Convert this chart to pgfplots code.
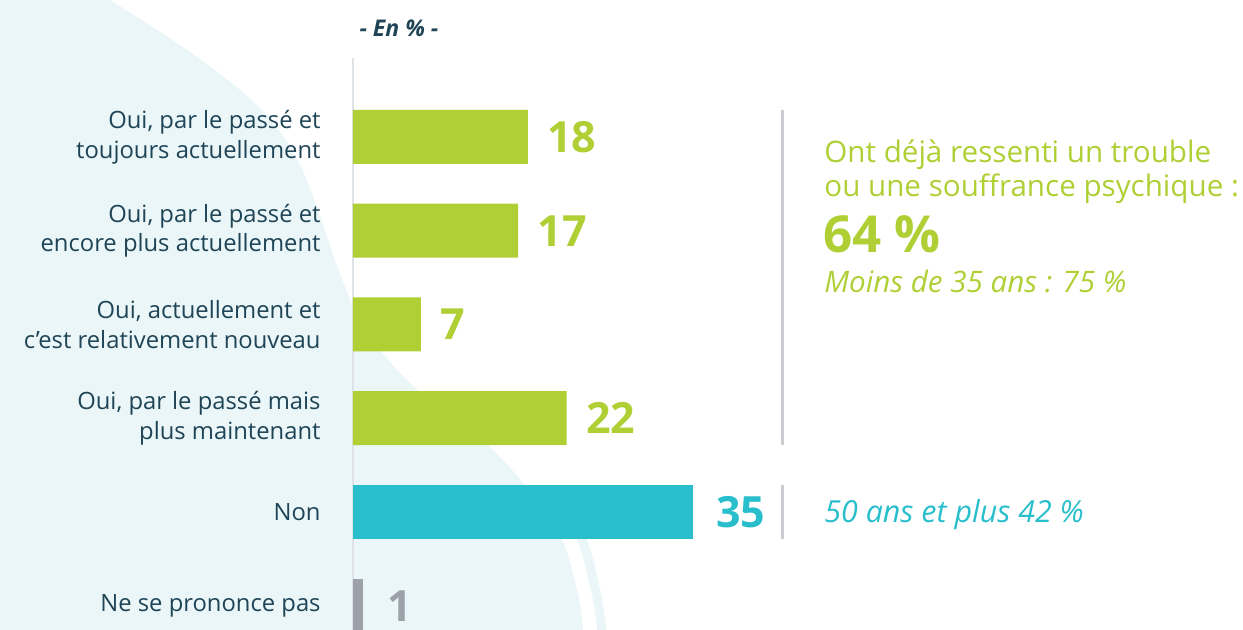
\documentclass[border=0pt]{standalone}
\usepackage{pgfplots}
\pgfplotsset{compat=1.18}
\usepackage{fontspec}
\setmainfont{Open Sans}
\definecolor{bgblue}{HTML}{EAF6F8}
\definecolor{cgreen}{HTML}{AFCF35}
\definecolor{cteal}{HTML}{29BECC}
\definecolor{cgray}{HTML}{9CA1AA}
\definecolor{navy}{HTML}{1F4456}
\definecolor{sepgray}{HTML}{C9CCD1}
\definecolor{axgray}{HTML}{DDE3E6}
\begin{document}
\begin{tikzpicture}
\path[use as bounding box] (0,0) rectangle (621.5pt,315pt);
\begin{scope}[x=0.5pt,y=-0.5pt,yshift=315pt]
\fill[bgblue] (0,0) -- (110,0) -- plot[smooth,tension=0.6] coordinates {(110,0) (180,45) (240,90) (275,125) (300,165) (318,210) (335,260) (355,310) (380,350) (420,392) (480,438) (525,485) (560,535) (577,590) (583,630)} -- (0,630) -- cycle;
\draw[bgblue,line width=4.5pt] plot[smooth,tension=0.6] coordinates {(568,515) (584,545) (597,597) (602,632)};
\draw[axgray,line width=1pt] (353,58) -- (353,630);
\end{scope}
\begin{axis}[
  at={(176.5pt,0pt)}, anchor=south west,
  scale only axis, width=445pt, height=315pt,
  xmin=0, xmax=91.66, ymin=-1.461, ymax=5.259,
  y dir=reverse,
  xbar, bar width=27pt, bar shift=0pt,
  axis line style={draw=none},
  xtick=\empty,
  ytick={0,1,2,3,4,5},
  yticklabels={{Oui, par le passé et\\toujours actuellement},{Oui, par le passé et\\encore plus actuellement},{Oui, actuellement et\\c’est relativement nouveau},{Oui, par le passé mais\\plus maintenant},{Non},{Ne se prononce pas}},
  major tick length=0pt, tick style={draw=none},
  yticklabel style={font=\fontsize{11.9pt}{14.8pt}\selectfont, text=navy, align=right, inner sep=0pt, xshift=-16pt},
  clip=false,
  /pgf/number format/assume math mode=true,
  nodes near coords, point meta=x,
  nodes near coords style={anchor=west, inner sep=0pt, xshift=9.5pt, font=\fontsize{21.5pt}{24pt}\selectfont\bfseries},
]
\addplot[fill=cgreen, draw=none, nodes near coords style={text=cgreen}] coordinates {(18,0) (17,1) (7,2) (22,3)};
\addplot[fill=cteal, draw=none, nodes near coords style={text=cteal, xshift=2pt}] coordinates {(35,4)};
\addplot[fill=cgray, draw=none, nodes near coords style={text=cgray, xshift=2.5pt}] coordinates {(1,5)};
\end{axis}
\begin{scope}[x=0.5pt,y=-0.5pt,yshift=315pt]
\draw[sepgray,line width=1.5pt] (782,110) -- (782,445);
\draw[sepgray,line width=1.5pt] (782,485) -- (782,539);
\node[anchor=base, inner sep=0pt, text=navy, font=\fontsize{11.5pt}{13pt}\selectfont\bfseries\itshape] at (399,37) {- En \% -};
\node[anchor=base west, inner sep=0pt, text=cgreen, font=\fontsize{14.8pt}{17pt}\selectfont] at (824,163) {Ont déjà ressenti un trouble};
\node[anchor=base west, inner sep=0pt, text=cgreen, font=\fontsize{14.8pt}{17pt}\selectfont] at (824,197) {ou une souffrance psychique :};
\node[anchor=base west, inner sep=0pt, text=cgreen, font=\fontsize{25.5pt}{28pt}\selectfont\bfseries] at (823,253) {64 \%};
\node[anchor=base west, inner sep=0pt, text=cgreen, font=\fontsize{14.8pt}{17pt}\selectfont\itshape] at (824,293) {Moins de 35 ans : 75 \%};
\node[anchor=base west, inner sep=0pt, text=cteal, font=\fontsize{15.2pt}{17pt}\selectfont\itshape] at (824,523) {50 ans et plus 42 \%};
\end{scope}
\end{tikzpicture}
\end{document}
